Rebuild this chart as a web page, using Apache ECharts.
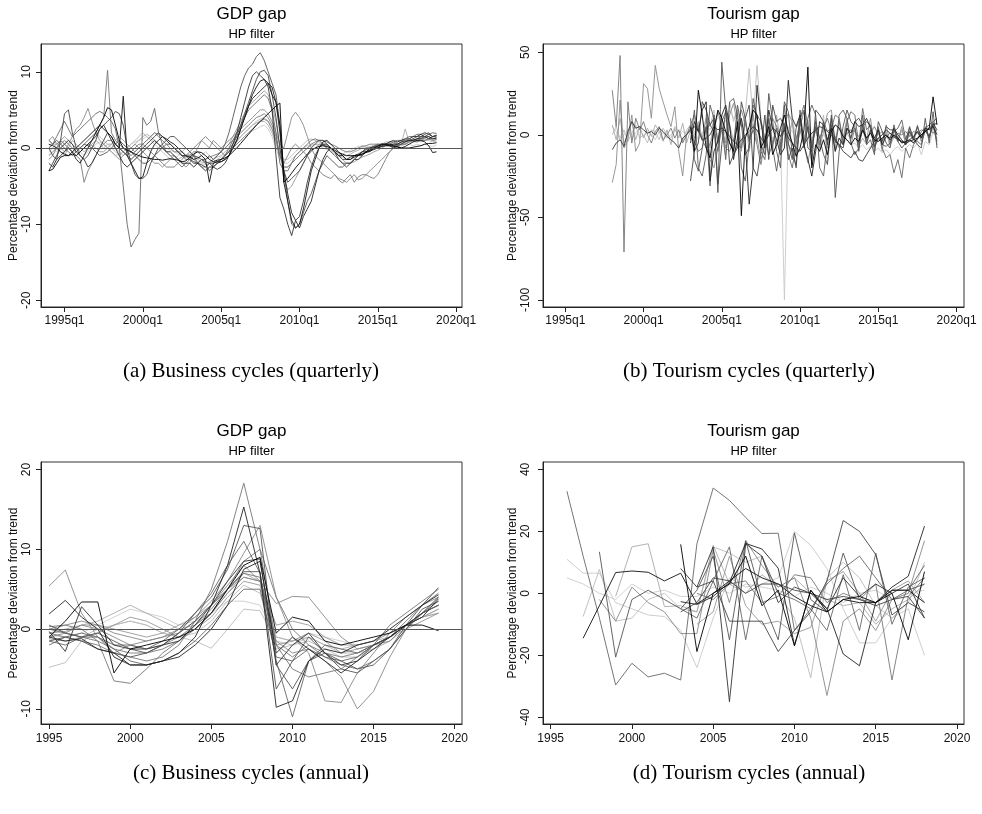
<!DOCTYPE html>
<html><head><meta charset="utf-8">
<script src="https://cdn.jsdelivr.net/npm/echarts@6/dist/echarts.min.js"></script>
<style>html,body{margin:0;padding:0;background:#fff}#c{width:982px;height:814px}</style>
</head><body><div id="c"></div>
<script>
// ---------------- DATA ----------------
// Panel (a): quarterly GDP gap, 1994q1 .. 2018q4
const gdpQStart = 1994;
const gdpQ1 = [-3.0,-2.8,-2.0,-1.2, -1.0,-1.0,-0.8,-1.0, -0.5,0.0,0.5,1.0, 2.0,3.0,4.0,5.3, 5.0,3.0,1.0,0.0, -0.3,-0.5,-0.8,-1.0, -1.2,-1.3,-1.4,-1.5, -1.5,-1.6,-1.5,-1.4, -1.5,-1.6,-1.8,-1.7, -1.2,-0.8,-0.5,-0.6, -1.0,-1.5,-1.8,-1.6, -1.5,-1.3,-1.0,-0.5, 0.0,0.6,1.2,1.8, 2.4,3.0,3.5,4.0, 4.5,5.0,5.5,5.9, -4.5,-4.0,-3.3,-2.6, -2.0,-1.4,-0.8,-0.3, 0.0,0.2,0.3,0.2, 0.0,-0.3,-0.6,-0.8, -1.0,-1.0,-1.0,-0.9, -0.8,-0.6,-0.4,-0.2, 0.0,0.2,0.3,0.3, 0.2,0.1,0.0,0.0, 0.0,0.1,0.2,0.3, 0.5,0.6,0.6,0.7];
const gdpQ2 = [0.5,0.3,0.0,-0.5, -0.8,-1.0,-0.5,0.0, 0.5,1.0,1.5,2.0, 2.5,3.0,2.5,2.0, 1.5,0.5,0.0,6.8, -1.0,-2.0,-3.0,-4.0, -3.8,-2.0,-0.5,0.5, 1.0,1.5,1.2,0.8, 0.5,0.0,-0.5,-1.0, -1.2,-1.5,-1.3,-1.0, -1.5,-4.5,-2.0,-1.8, -1.8,-1.5,-1.0,0.0, 1.0,2.5,4.0,5.5, 7.0,8.0,8.8,9.0, 8.5,7.0,6.0,3.0, -4.5,-7.0,-9.5,-10.5, -10.0,-8.0,-5.5,-3.0, -1.5,0.0,0.8,1.0, 0.5,0.0,-0.5,-1.0, -1.5,-1.5,-1.2,-1.0, -0.8,-0.5,-0.3,0.0, 0.2,0.4,0.5,0.5, 0.3,0.2,0.0,0.2, 0.5,0.8,1.0,1.0, 0.8,0.3,-0.6,-0.5];
const gdpQ3 = [1.0,0.5,1.5,2.5, 3.5,2.5,1.5,2.0, 2.5,3.0,3.5,4.0, 4.5,4.8,4.5,4.0, 3.5,2.5,0.0,-5.0, -10.0,-13.0,-12.0,-11.2, 4.0,3.0,3.5,5.2, 2.0,0.5,-0.5,-1.0, -1.5,-2.0,-2.5,-2.0, -1.5,-1.0,-2.0,-1.5, -2.0,-3.0,-2.5,-2.0, -1.5,-1.0,0.0,1.0, 2.0,3.0,4.0,5.0, 5.5,6.0,6.5,7.0, 6.5,5.0,2.0,-2.0, -3.0,-3.0,-2.0,-1.0, -0.5,0.0,0.5,1.0, 1.2,1.0,0.5,0.0, -0.5,-1.0,-1.5,-2.0, -2.0,-2.0,-1.5,-1.0, -0.5,0.0,0.0,0.2, 0.5,0.5,0.3,0.5, 0.8,1.0,1.0,1.2, 1.5,1.5,1.8,1.8, 2.0,1.8,2.0,1.9];
const gdpQ4 = [-1.0,-0.5,0.0,0.5, 1.0,0.5,0.0,-0.5, 0.0,0.5,1.0,1.5, 2.0,3.0,4.0,10.2, 2.0,1.0,0.5,0.0, -0.5,-1.0,-0.5,0.0, 0.5,1.0,1.5,2.0, 1.5,1.0,0.5,0.0, -0.5,-0.5,-1.0,-1.2, -1.0,-0.5,-0.5,-1.0, -1.5,-1.2,-1.0,-0.8, -0.5,0.0,0.5,1.0, 1.5,2.0,2.5,3.0, 3.5,4.0,4.2,4.5, 4.0,3.0,1.5,-1.0, -2.5,-2.5,-2.0,-1.5, -1.0,-0.5,0.0,0.5, 0.8,1.0,1.0,0.8, 0.5,0.3,0.0,-0.3, -0.5,-0.5,-0.3,0.0, 0.2,0.3,0.5,0.5, 0.5,0.3,0.5,0.8, 0.8,0.5,0.5,0.8, 1.0,1.2,1.0,1.2, 1.5,1.5,1.2,1.4];
const gdpQ5 = [-3.0,-2.0,-1.0,0.0, 0.5,1.0,0.5,-0.5, -1.0,-1.5,-2.5,-2.0, -1.0,0.0,1.0,2.0, 1.5,0.5,0.0,-0.5, -1.0,-1.5,-1.0,-0.5, 0.0,0.5,1.0,1.5, 2.0,1.5,1.0,0.5, 0.0,-0.5,-1.0,-1.0, -1.5,-2.0,-2.0,-2.2, -2.5,-2.0,-2.5,-2.8, -2.5,-2.0,-1.0,0.5, 2.0,4.0,6.0,8.0, 9.5,10.0,9.5,9.0, 8.0,5.0,-1.0,-6.5, -8.0,-10.0,-11.5,-9.5, -9.0,-7.0,-4.5,-2.5, -1.0,0.0,0.5,0.5, 0.0,-0.5,-1.5,-2.0, -2.5,-2.0,-1.5,-1.5, -1.0,-0.5,-0.2,0.0, 0.0,0.5,0.5,0.8, 1.0,0.8,1.0,1.2, 1.2,1.5,1.5,1.8, 1.5,1.2,1.5,1.6];
const gdpQ6 = [0.0,0.5,1.0,0.5, 0.0,-0.5,-1.0,-0.5, 0.0,0.5,0.3,0.0, -0.5,-1.0,-0.8,-0.5, 0.0,0.5,1.0,0.5, 0.0,-0.5,-1.0,-1.5, -2.0,-2.0,-1.5,-1.0, -0.5,0.0,0.5,0.5, 0.0,-0.5,-1.0,-1.5, -1.5,-1.8,-2.0,-1.5, -1.5,-1.0,-1.5,-1.0, -0.5,0.5,2.0,4.0, 6.0,8.0,9.5,10.5, 11.0,12.0,12.5,11.5, 10.0,8.5,7.0,3.0, -3.0,-7.0,-10.0,-10.5, -10.0,-8.5,-7.0,-6.0, -4.5,-3.0,-2.0,-1.0, -1.5,-2.0,-2.5,-2.5, -2.0,-2.0,-1.5,-1.0, -1.0,-0.5,-0.5,0.0, 0.0,0.3,0.5,0.5, 0.3,0.5,0.8,1.0, 1.0,1.2,1.5,1.5, 1.8,2.0,1.5,1.7];
const gdpQ7 = [1.0,1.5,0.5,0.0, -0.5,0.5,1.5,2.5, 3.0,4.0,5.2,3.5, 2.0,1.0,0.5,0.0, -0.5,-1.0,-1.5,-1.0, -0.5,0.0,0.5,0.0, -0.5,-1.0,-1.5,-2.0, -2.0,-2.5,-2.0,-1.5, -1.0,-1.5,-2.0,-2.5, -2.0,-1.0,0.0,1.0, 0.5,0.0,1.0,0.5, 0.0,0.5,1.0,1.5, 2.0,2.5,3.0,3.5, 4.0,4.5,5.0,5.0, 4.5,3.5,2.0,0.5, 0.0,2.0,4.0,4.7, 4.0,3.0,1.5,0.0, -1.0,-1.5,-2.0,-2.5, -3.0,-3.5,-4.0,-4.2, -4.5,-4.0,-3.5,-4.2, -4.0,-3.5,-3.0,-2.5, -2.0,-1.5,-1.0,-0.5, 0.0,0.5,0.5,0.5, 0.8,1.0,1.0,1.2, 1.0,1.2,1.3,1.2];
const gdpQ8 = [0.0,-1.0,-1.5,1.0, 4.5,5.0,2.0,0.0, -1.0,-1.5,-1.0,0.0, 1.0,2.5,3.0,3.5, 4.0,4.8,4.5,3.0, 0.0,-2.0,-3.5,-4.0, -4.0,-3.5,-2.0,-1.0, 0.0,0.5,1.0,1.5, 1.5,1.0,0.5,0.0, -0.5,-1.0,-1.2,-1.5, -1.8,-2.0,-2.0,-1.8, -1.5,-1.0,-0.5,0.5, 1.5,3.0,4.5,6.0, 7.5,9.0,10.0,10.2, 9.5,7.0,4.0,0.0, -3.0,-4.5,-4.0,-3.5, -3.0,-2.0,-1.0,0.0, 0.5,1.0,1.0,0.5, 0.0,-0.5,-1.0,-1.5, -1.5,-1.2,-1.0,-0.8, -0.5,-0.2,0.0,0.2, 0.3,0.5,0.5,0.3, 0.0,0.3,0.5,0.8, 1.0,1.0,1.2,1.5, 1.5,1.8,1.5,1.6];
const gdpQ9 = [1.0,0.5,0.0,-0.5, -1.0,0.0,1.0,0.5, 0.0,-0.5,0.0,0.5, 1.0,0.5,0.0,0.5, 0.5,0.0,-0.5,-1.0, -0.5,0.0,0.5,1.0, 1.5,1.8,1.5,1.0, 0.5,0.0,-0.5,-1.0, -1.0,-1.5,-1.2,-1.0, -0.8,-1.0,-1.5,-1.8, -2.0,-1.8,-1.5,-1.2, -1.0,-0.5,0.0,0.5, 1.0,1.5,2.0,2.5, 3.0,3.3,3.5,3.5, 3.0,2.0,0.5,-1.0, -2.5,-2.5,-2.0,-1.5, -1.0,-0.5,0.0,0.3, 0.5,0.5,0.3,0.0, -0.3,-0.5,-0.8,-1.0, -1.0,-0.8,-0.5,-0.3, 0.0,0.0,0.2,0.3, 0.3,0.5,0.5,0.5, 0.3,0.2,0.5,2.5, 0.8,0.8,0.8,1.0, 1.0,1.2,1.0,1.1];
const gdpQ10 = [0.5,0.0,-0.5,0.0, 0.5,1.0,0.5,0.0, -0.5,-1.0,-0.5,0.0, 0.5,0.8,0.5,0.0, -0.5,-1.0,-0.8,-0.5, 0.0,0.5,0.8,1.0, 1.2,1.5,1.2,0.8, 0.5,0.2,0.0,-0.3, -0.5,-0.8,-1.0,-1.0, -1.2,-1.5,-1.8,-2.0, -2.2,-2.0,-1.8,-1.5, -1.2,-0.8,-0.5,0.0, 0.5,1.0,1.5,2.0, 2.3,2.5,2.8,3.0, 2.5,1.5,0.0,-1.5, -2.0,-2.0,-1.5,-1.0, -0.5,0.0,0.3,0.5, 0.5,0.3,0.0,-0.2, -0.5,-0.5,-0.8,-0.8, -0.5,-0.3,0.0,0.2, 0.3,0.2,0.0,0.2, 0.3,0.5,0.3,0.2, 0.0,0.2,0.3,0.5, 0.5,0.3,0.5,0.3, 0.5,0.3,0.2,0.4];
const gdpQ11 = [-1.5,-1.0,0.0,1.0, 0.5,0.0,-0.5,-1.0, -1.5,-4.5,-3.0,-2.0, -1.0,0.0,0.5,1.0, 1.0,0.5,0.0,-0.5, -1.0,-0.5,0.0,0.5, 0.5,0.0,-0.5,-1.0, -1.5,-2.0,-2.5,-2.5, -2.5,-2.0,-1.5,-1.0, -0.5,0.0,0.5,1.0, 1.5,1.0,0.5,0.0, -0.5,-1.0,-0.5,0.0, 0.5,1.0,1.5,2.0, 2.5,3.0,3.5,3.8, 3.5,2.5,1.0,-1.0, -2.0,-1.0,0.0,0.5, 0.0,-0.5,-1.0,-2.0, -2.5,-3.0,-3.5,-3.8, -4.0,-3.5,-4.2,-4.6, -4.0,-3.5,-4.5,-3.8, -3.5,-3.5,-3.8,-4.0, -3.5,-2.5,-1.5,-0.5, 0.0,0.3,0.5,0.5, 0.8,1.0,0.8,1.0, 1.0,1.2,1.0,1.1];
const gdpQ12 = [-2.0,-2.5,-1.5,-1.0, -0.5,0.0,-0.5,-1.5, -2.0,-1.0,0.0,1.0, 1.5,2.5,3.0,2.0, 1.0,0.0,-1.0,-2.0, -2.5,-2.0,-1.5,-1.0, -0.5,0.0,0.5,1.0, 0.5,0.0,-0.5,-0.5, -1.0,-1.5,-2.0,-2.0, -2.0,-2.5,-2.0,-2.5, -3.0,-2.5,-2.5,-2.0, -1.8,-1.5,-1.0,0.0, 1.0,2.5,4.0,5.5, 6.5,7.0,7.5,8.0, 8.5,8.0,6.0,2.0, -3.0,-6.0,-8.5,-9.5, -10.5,-9.0,-8.0,-7.0, -5.0,-3.0,-1.5,-0.5, 0.0,-0.5,-1.0,-1.0, -1.5,-1.5,-1.0,-1.0, -0.5,-0.5,0.0,0.0, 0.3,0.5,0.5,0.3, 0.5,0.5,0.8,0.8, 1.0,1.0,1.2,1.3, 1.3,1.5,1.2,1.3];
const gdpQ13 = [0.0,0.5,0.5,1.0, 1.5,1.0,0.5,0.0, -0.5,0.0,0.5,0.3, 0.0,-0.5,-0.5,0.0, 0.5,1.0,1.5,1.0, 0.5,0.0,-0.5,0.0, 0.5,1.0,1.5,2.0, 1.8,1.5,1.0,0.5, 0.0,-0.5,-0.5,-1.0, -1.0,-1.5,-2.0,-2.5, -2.5,-2.0,-1.5,-1.0, -0.5,0.0,0.5,1.5, 2.5,3.5,4.5,5.5, 6.0,6.5,7.0,7.5, 7.0,5.5,3.5,0.0, -4.0,-5.5,-5.0,-4.0, -3.0,-2.0,-1.0,-0.5, 0.0,0.5,0.5,0.3, 0.0,-0.5,-1.0,-1.5, -2.0,-2.0,-1.8,-1.5, -1.2,-1.0,-0.8,-0.5, -0.3,0.0,0.3,0.5, 0.5,0.8,1.0,1.0, 1.2,1.5,1.5,1.8, 2.0,1.8,1.5,1.6];
const gdpQ14 = [-0.5,0.0,0.5,1.0, 0.5,0.0,-0.5,-0.5, 0.0,0.5,1.0,1.5, 2.0,1.5,1.0,0.5, 0.0,-0.5,-1.0,-0.5, 0.0,0.5,1.0,1.5, 2.0,1.5,1.0,0.5, 0.0,-0.5,-1.0,-1.5, -1.5,-1.0,-0.5,0.0, -0.5,-1.0,-1.5,-1.0, -0.5,-1.0,-1.5,-2.0, -1.5,-1.0,-0.5,0.0, 0.8,1.5,2.0,2.5, 3.0,3.5,3.8,4.0, 3.5,2.5,1.0,-0.5, -1.5,-1.5,-1.0,-0.5, 0.0,0.5,1.0,1.2, 1.0,0.8,0.5,0.0, -0.5,-0.8,-1.0,-1.2, -1.5,-1.2,-1.0,-0.8, -0.5,-0.3,0.0,0.3, 0.5,0.5,0.8,0.8, 0.5,0.5,0.3,0.5, 0.8,1.0,1.0,0.8, 1.0,1.0,0.8,0.9];

// Panel (b): quarterly tourism gap (first year of each series given separately)
const tourQ1 = [27,5,48,-71, 20,-5,10,3, 8,0,-5,2, 5,-3,0,4, -2,3,-5,0, 6,12,4,-3, -8,-6,2,14, 5,-8,-10,-3, 4,15,7,-2, 3,-6,-18,-4, 2,10,5,-1, 4,-6,-10,-2, 5,14,2,-5, 3,-2,4,10, 2,-1,-8,-2, 1,3,2,-1, 2,-2,1,5, 0,2,-1,1, -2,1,0,2, -1,2,1,3, 2,4,1,3];
const tourQ2 = [5,2,-3,0, 3,-2,1,4, -1,2,0,-3, 2,1,-2,0, 3,-1,2,1, 4,2,-3,1, 6,3,8,10, 12,8,15,10, 14,8,5,3, 6,2,4,0, 2,-2,1,-3, -100,5,2,-1, 3,0,-2,1, 2,-1,0,-3, -1,-4,-2,-5, -3,-6,-5,-8, -6,-9,-7,-10, -8,-11,-9,-12, -9,-7,-10,-8, -6,-8,-5,-12, -4,-6,2,-3];
const tourQ3 = [-29,-18,21,-8, -3,12,-10,-5, 31,28,10,42, 28,20,12,5, 17,-10,-25,0, 4,-2,6,-3, 10,-15,-20,-8, 3,-5,12,19, 6,-10,8,-4, 12,-2,-15,-6, 9,-5,4,-8, 6,13,8,-10, 3,-6,-17,-4, 5,-8,2,13, 15,-5,8,-2, 10,-6,4,-9, 6,-3,10,-7, 4,-10,6,-5, 3,-4,5,-6, 2,-3,6,-4, 5,-2,8,-6];
const tourQ4 = [5,-10,27,12, -8,-14,3,15, 10,2,-5,-10, 8,-49,-2,5, 15,12,-8,-3, 5,-12,-6,4, 12,2,-5,-13, -8,3,41,-20, -6,-10,-3,-12, 2,6,4,-1, -3,-6,-2,-4, 3,-2,1,-3, -4,-2,0,-3, 0,-2,-5,-4, -3,-5,-2,0, 2,4,23,6];
const tourQ5 = [-5,8,2,15, 20,-28,-10,-4, 12,18,6,-15, -2,10,-5,-42, -20,30,8,-8, 15,4,-3,-12, -8,33,10,5, 12,-6,-15,-25, -10,8,6,-3, 4,-10,-2,-6, 4,1,8,5, 6,10,4,-2, 3,-6,-1,-2, 4,0,-3,-6, -3,-1,2,-2, 4,3,5,0];
const tourQ6 = [10,-15,-22,-8, 5,-31,12,-35, 44,15,-5,-10, 18,6,-12,-8, 22,10,-6,-12, 25,8,-10,-20, 18,-5,-15,4, 10,15,-8,-10, 8,-2,-12,-18, 12,-38,-10,5, 15,8,5,-10, 12,-6,-3,-12, 8,2,-5,-8, 6,-4,-8,-5, 4,-2,-6,-8, 10,-5,14,-8];
const tourQ7 = [0,5,-2,3, -4,1,6,-2, 0,-5,3,2, -3,4,0,-2, 5,2,-4,3, 6,0,8,-4, 12,5,15,-6, 10,-3,20,8, 15,5,12,40, 8,42,10,-5, 12,-8,6,2, 5,-6,10,-3, 4,-2,8,-5, 10,-10,12,-18, 5,-3,8,-4, 6,-2,4,-6, 3,-5,2,-4, 1,-3,2,-6, 0,-4,3,-2, 2,-5,4,-1, 3,-2,6,1];
const tourQ8 = [-9,-5,-3,-7, 2,8,4,5, 3,1,2,0, 4,2,-1,-3, -5,-8,-2,0, 3,5,2,-3, -2,0,5,3, 4,2,-1,-4, -6,-3,0,2, 5,3,-2,-5, 0,4,2,-1, 3,-2,-5,-8, -10,-6,-2,1, 3,5,4,2, 0,-3,-6,-10, -12,-14,-10,-15, -16,-12,-8,-4, -2,0,3,1, -1,-3,-4,-5, -4,-3,-2,0, 2,4,6,7];
const tourQ9 = [2,-4,-10,-8, 4,6,2,-10, 8,14,5,-12, -6,-8,10,-4, 3,12,8,-2, -12,-6,4,-10, 7,-12,-20,-6, 10,18,6,-8, 5,-6,8,2, 4,12,10,-5, 8,14,12,-6, 16,3,6,-10, 5,-8,-14,-12, -23,-15,-26,-8, -14,-6,-3,2, 4,6,8,10];
const tourQ10 = [-3,15,-20,-25, -12,18,10,-5, 5,-15,20,22, 12,-20,-28,-5, 18,12,-10,-15, 10,-8,-22,-6, 20,14,-12,-18, 15,-5,10,18, 12,-20,-25,-4, 6,-10,12,15, 10,-5,-12,-8, 5,8,6,-4, 3,-6,-7,-5, 2,4,9,-3, 5,-3,-4,-6, 3,-2,6,-4];
const tourQ11 = [6,-3,10,-5, 0,8,-3,5, -2,4,-1,6, 2,-4,3,-6, 4,-2,7,-5, 3,-6,8,-2, 5,-8,12,-3, 9,-12,6,-4, 14,-7,11,-10, 7,-4,9,-6, 3,-9,12,-5, 6,-2,8,-12, 4,-7,9,-3, 2,-5,6,-8, 3,-4,5,-6, 1,-3,4,-7, -2,-6,3,-8, -3,-5,2,-7, -1,-4,3,-5, 0,-3,2,-4, 2,-1,4,-2];
const tourQ12 = [-28,-10,-5,20, 15,6,10,-30, -6,15,-18,-12, -8,20,10,18, -20,-25,-10,12, -15,18,8,10, 5,-15,-8,-20, 10,-8,5,-18, 15,12,8,-6, 10,-4,-6,-8, 4,-2,8,10, 6,-5,3,-7, -2,-4,5,3, 3,-2,-4,-5, 2,-3,5,-2, 4,-1,7,3];
const tourQStarts = [1998,1998,1998,2003,2003,2003,1998,1998,2003,2003,1998,2003];

// Panel (c): annual GDP gap, 1995 .. 2019
const gdpAStart = 1995;
const gdpA1 = [-0.5,-1.0,-1.5,-2.0,-3.0,-3.5,-4.0,-3.5,-2.0,1.0,5.0,11.0,18.3,10.0,-2.0,-5.0,-6.0,-5.5,-5.0,-3.5,-2.0,0.5,2.0,3.5,5.0];
const gdpA2 = [-1.0,-1.5,-1.2,-2.5,-3.0,-4.5,-4.5,-4.0,-3.0,-1.0,3.0,8.0,15.3,7.0,-9.8,-9.0,-4.0,-2.5,-3.0,-2.0,-1.5,0.0,1.5,3.0,4.3];
const gdpA3 = [0.5,-0.5,-1.0,-0.5,-1.5,-2.5,-3.0,-2.0,-0.5,2.0,4.0,7.5,13.0,12.6,-4.5,-7.5,-4.0,-3.0,-4.0,-5.0,-4.5,-2.5,0.5,3.0,5.2];
const gdpA4 = [0.0,0.5,1.0,0.5,-0.5,-1.0,-1.5,-1.0,0.0,1.5,3.5,6.0,9.5,13.0,4.0,-1.0,-3.0,-9.0,-9.2,-5.5,-3.0,-0.5,1.5,3.0,4.0];
const gdpA5 = [-1.5,-2.0,-1.0,-1.0,-2.0,-2.0,-2.5,-1.5,0.0,2.0,4.5,8.0,11.0,7.0,-4.0,-11.0,-4.0,-2.0,-2.5,-3.0,-2.0,-1.0,0.5,2.0,3.0];
const gdpA6 = [5.4,7.4,2.0,-1.0,-3.0,-2.0,-1.5,-1.0,-0.5,1.0,3.0,5.5,8.0,6.0,3.2,4.1,4.0,1.5,-1.0,-2.5,-2.0,-1.5,0.5,2.0,3.0];
const gdpA7 = [-4.8,-4.2,-1.5,-0.5,0.5,1.0,0.5,-0.5,-1.0,-1.5,-2.4,0.0,2.5,2.3,-1.5,-2.0,-1.0,-2.0,-3.0,-3.0,-2.5,-1.5,0.0,1.0,2.0];
const gdpA8 = [1.9,3.6,1.5,0.0,-3.5,-4.5,-4.5,-4.0,-3.5,-2.0,0.0,3.0,7.5,8.5,-3.0,-1.0,-2.5,-4.0,-5.5,-4.0,-2.5,-1.0,0.5,1.5,3.8];
const gdpA9 = [-1.0,1.0,3.4,3.4,-5.5,-2.5,-2.0,-1.5,-1.0,0.0,2.0,5.0,8.0,9.0,-0.5,1.5,1.0,-1.5,-2.0,-1.5,-1.0,-0.5,0.5,0.5,-0.2];
const gdpA10 = [-0.3,-2.8,2.8,0.5,-2.0,-2.5,-2.5,-2.0,-1.5,0.5,3.0,6.0,8.5,8.8,-4.5,-2.0,-0.5,-3.0,-4.5,-4.0,-2.0,-1.0,0.5,2.0,4.0];
const gdpA11 = [-1.2,-1.5,-1.0,-0.5,0.5,1.5,1.0,0.0,-1.0,0.0,1.5,4.0,6.0,5.5,-2.0,-1.5,-0.5,-1.5,-3.0,-2.5,-2.0,-1.0,0.5,1.5,2.5];
const gdpA12 = [-0.5,0.0,0.5,1.0,2.0,3.0,2.0,1.0,0.0,0.5,2.0,4.5,7.0,6.0,-1.0,-1.5,-1.0,-2.0,-2.5,-2.0,-1.5,-1.0,0.0,1.0,2.0];
const gdpA13 = [-0.8,-1.0,-0.5,0.5,1.5,2.5,2.0,1.5,0.5,1.0,2.0,3.5,3.5,3.0,-1.0,-1.5,-0.5,-1.0,-1.5,-2.0,-1.5,-0.5,0.5,1.5,2.0];
const gdpA14 = [0.3,0.5,0.0,-1.5,-6.5,-6.8,-5.0,-3.0,-1.5,0.5,2.5,5.0,7.0,6.5,-2.0,-3.5,-2.0,-3.5,-4.5,-5.0,-4.0,-2.5,0.0,2.0,3.5];
const gdpA15 = [-1.5,-1.0,-1.5,-2.5,-3.0,-3.5,-3.0,-2.0,-0.5,1.0,3.0,5.0,7.2,7.2,-7.5,-4.0,-1.0,-3.0,-5.0,-5.5,-4.0,-2.5,0.0,2.5,3.5];
const gdpA16 = [0.0,-0.5,-1.0,0.0,0.5,1.0,0.5,-0.5,-1.0,-0.5,1.0,3.5,5.5,4.5,-2.5,-2.0,-1.5,-2.5,-3.5,-3.5,-2.5,-1.5,0.5,1.5,2.5];
const gdpA17 = [-1.0,-0.5,0.5,0.0,-1.0,-2.0,-2.5,-2.0,-1.0,0.5,2.0,4.5,6.5,6.0,-1.5,-3.0,-2.5,-4.0,-6.0,-10.0,-7.8,-3.5,0.0,2.0,3.0];
const gdpA18 = [0.0,-0.5,-1.0,-1.5,-2.5,-3.0,-3.0,-2.5,-1.5,0.0,2.0,5.0,8.5,10.0,4.0,0.0,-2.0,-3.0,-3.5,-3.0,-2.0,-1.0,1.0,3.0,4.5];
const gdpA19 = [-0.5,-0.3,0.5,0.5,0.0,-0.5,-1.0,-0.5,0.5,1.5,3.0,5.0,6.5,6.0,0.5,1.0,0.5,-1.0,-2.0,-2.0,-1.5,-0.5,0.5,1.5,2.0];
const gdpA20 = [-2.0,-1.0,-0.5,-1.0,-2.5,-4.0,-4.5,-4.0,-3.0,-1.5,0.5,3.0,5.0,5.0,-3.5,-4.0,-2.5,-3.5,-4.0,-3.5,-2.0,-1.0,0.5,2.0,3.0];

// Panel (d): annual tourism gap (first year of each series given separately)
const tourA1 = [33,12,-8,-29.6,-22.6,-27,-25.8,-28,16,34,30,24.5,19.3,19.4,-12,-5,3,8,12,5,-2,1,9];
const tourA2 = [11,6.5,6.5,-3,-5,-7,-7.5,-12,-24,-8,5,2,3,5,20,15.5,8,-5,-16,-16,-8,-5,-20];
const tourA3 = [-14.5,-4,6.7,7.2,6.8,4,6.5,-3.4,0,4,8,5,3,-1,-4,-6,-2,-3,-3,1,1,-3];
const tourA4 = [15.8,-18.8,0,3,12,-4,1,-17,1,-6,-2,-1,-3,0,-15,7];
const tourA5 = [-2.7,-3.6,-1,3.5,16.1,14.3,8.1,-16.7,1,-5,-19.6,-23.4,-3,2,5.5,21.7];
const tourA6 = [8,2,15,-35,16,12,-3,2,0,-5,5,-1,3,0,3,-8];
const tourA7 = [13.4,-20.6,-2,1,-2,-5,1,12,-15,17,-2,-15,19.5,-2,-6,13,-2,-3,1,1,3];
const tourA8 = [2,4,-9,-9,-9,-18.8,-12,-6,4,23.5,20,12.5,-7,-3,-6];
const tourA9 = [-2,-9,2,-3,-6,-13,-13,14,-3,17,9,2,5,-8,-33,-9,-5,-12,-2,0,17];
const tourA10 = [0,-2,3,4,-3,-1,6,5,-3,0,-2,3,-28,-1,5];
const tourA11 = [-7.5,7.7,-9,-8,-2,0,-5,-6,15,13,10,12,0,-8,-27.3,5,10,5,-4,-8,-3,10];
const tourA12 = [-1,15,16,-4.3,-4,-6,15.5,3,0,6,2,5,0,-2,-4,-3,-10,-5,-2,3];
const tourA13 = [5,3,0,-2,3,0,1,-1,-1,2,0,3,2,1,-1,2,0,-3,0,1,-2,0,1];
const tourA14 = [-5,-8,4,15,-15,12,0,-2,-5,-12,6,-12,13,-10,2,5];
const tourA15 = [-10,-6,12,-4,-10,-9,-13,-11,4,7,0,-9,1,4,-3];
const tourA16 = [-6,-3,5,4,0,3,3,1,0,-2,-1,-2,-4,-2,-1,-8];
const tourAStarts = [1996,1996,1997,2003,2003,2003,1998,2004,1998,2004,1997,1999,1996,2003,2004,2003];

// Axis tick values
const qTicks = [1995,2000,2005,2010,2015,2020];
const aTicks = [1995,2000,2005,2010,2015,2020];
const gdpQYTicks = [-20,-10,0,10];
const tourQYTicks = [-100,-50,0,50];
const gdpAYTicks = [-10,0,10,20];
const tourAYTicks = [-40,-20,0,20,40];

// ---------------- STYLE ----------------
const gdpQList = [gdpQ1,gdpQ2,gdpQ3,gdpQ4,gdpQ5,gdpQ6,gdpQ7,gdpQ8,gdpQ9,gdpQ10,gdpQ11,gdpQ12,gdpQ13,gdpQ14];
const gdpQColors = ['#000','#111','#666','#777','#333','#555','#888','#444','#aaa','#c8c8c8','#7a7a7a','#222','#999','#bbb'];
const tourQList = [tourQ1,tourQ2,tourQ3,tourQ4,tourQ5,tourQ6,tourQ7,tourQ8,tourQ9,tourQ10,tourQ11,tourQ12];
const tourQColors = ['#777','#c8c8c8','#8c8c8c','#000','#222','#555','#bbb','#333','#666','#5a5a5a','#aaa','#444'];
const gdpAList = [gdpA1,gdpA2,gdpA3,gdpA4,gdpA5,gdpA6,gdpA7,gdpA8,gdpA9,gdpA10,gdpA11,gdpA12,gdpA13,gdpA14,gdpA15,gdpA16,gdpA17,gdpA18,gdpA19,gdpA20];
const gdpAColors = ['#777','#222','#555','#888','#666','#888','#bbb','#222','#000','#333','#999','#aaa','#ccc','#777','#555','#bbb','#888','#777','#999','#666'];
const tourAList = [tourA1,tourA2,tourA3,tourA4,tourA5,tourA6,tourA7,tourA8,tourA9,tourA10,tourA11,tourA12,tourA13,tourA14,tourA15,tourA16];
const tourAColors = ['#666','#c8c8c8','#111','#000','#222','#333','#555','#444','#888','#777','#bbb','#aaa','#ccc','#666','#999','#444'];

function lum(c){ const h=c.replace('#',''); const f=h.length===3?h.split('').map(x=>x+x).join(''):h; return parseInt(f.slice(0,2),16); }

const series = [];
function addSeries(list, colors, starts, gi, quarterly){
  const idx = list.map((_,i)=>i).sort((a,b)=>lum(colors[b])-lum(colors[a]));
  idx.forEach(i=>{
    const s0 = quarterly ? (starts[i]-1960)*4 : starts[i];
    series.push({
      type:'line', xAxisIndex:gi, yAxisIndex:gi, symbol:'none', showSymbol:false,
      silent:true, animation:false, z:2,
      lineStyle:{color:colors[i], width:0.9},
      data: list[i].map((v,j)=>[s0+j, v])
    });
  });
}
addSeries(gdpQList, gdpQColors, gdpQList.map(()=>gdpQStart), 0, true);
addSeries(tourQList, tourQColors, tourQStarts, 1, true);
addSeries(gdpAList, gdpAColors, gdpAList.map(()=>gdpAStart), 2, false);
addSeries(tourAList, tourAColors, tourAStarts, 3, false);

// zero reference lines for GDP panels
[0,2].forEach(gi=>{
  series.push({type:'line', xAxisIndex:gi, yAxisIndex:gi, data:[], silent:true, animation:false,
    markLine:{symbol:'none', silent:true, animation:false, label:{show:false},
      lineStyle:{color:'#555', width:1.2, type:'solid'}, data:[{yAxis:0}]}});
});

const font = 'Liberation Sans';
const qFmt = v => (1960+Math.floor(v/4)) + 'q' + (v%4+1);
const qTickVals = qTicks.map(y=>(y-1960)*4);

function xAxis(gi, min, max, vals, fmt, margin){
  return {type:'value', gridIndex:gi, min, max,
    axisLine:{show:true, onZero:false, lineStyle:{color:'#222', width:1}},
    axisTick:{show:true, length:5, customValues:vals, lineStyle:{color:'#222'}},
    axisLabel:{customValues:vals, formatter:fmt, fontFamily:font, fontSize:12, color:'#111', margin},
    splitLine:{show:false}};
}
function yAxis(gi, min, max, vals, margin){
  return {type:'value', gridIndex:gi, min, max,
    name:'Percentage deviation from trend', nameLocation:'middle', nameGap:21, nameRotate:90,
    nameTextStyle:{fontFamily:font, fontSize:12, color:'#111'},
    axisLine:{show:true, onZero:false, lineStyle:{color:'#222', width:1}},
    axisTick:{show:true, length:5, customValues:vals, lineStyle:{color:'#222'}},
    axisLabel:{customValues:vals, rotate:90, fontFamily:font, fontSize:12, color:'#111', margin},
    splitLine:{show:false}};
}

function txt(x, y, text, size, fam){
  return {type:'text', x, y, silent:true, style:{text, font: size+'px "'+fam+'"', fill:'#000', align:'center', verticalAlign:'middle'}};
}

const option = {
  animation:false,
  backgroundColor:'#fff',
  textStyle:{fontFamily:font},
  grid:[
    {left:41, top:44, width:421, height:263, show:true, borderColor:'#333', borderWidth:1, backgroundColor:'#fff'},
    {left:543, top:44, width:421, height:263, show:true, borderColor:'#333', borderWidth:1, backgroundColor:'#fff'},
    {left:41, top:462, width:421, height:262, show:true, borderColor:'#333', borderWidth:1, backgroundColor:'#fff'},
    {left:543, top:462, width:421, height:262, show:true, borderColor:'#333', borderWidth:1, backgroundColor:'#fff'}
  ],
  xAxis:[
    xAxis(0, 134, 241.5, qTickVals, qFmt, 8),
    xAxis(1, 134.3, 241.9, qTickVals, qFmt, 8),
    xAxis(2, 1994.5, 2020.45, aTicks, v=>String(v), 9),
    xAxis(3, 1994.53, 2020.43, aTicks, v=>String(v), 9)
  ],
  yAxis:[
    yAxis(0, -20.87, 13.65, gdpQYTicks, 8),
    yAxis(1, -104.3, 55.0, tourQYTicks, 11),
    yAxis(2, -11.9, 20.95, gdpAYTicks, 8),
    yAxis(3, -42.2, 42.4, tourAYTicks, 11)
  ],
  graphic:[
    txt(251.5, 14, 'GDP gap', 17, font), txt(251.5, 34, 'HP filter', 13, font),
    txt(753.5, 14, 'Tourism gap', 17, font), txt(753.5, 34, 'HP filter', 13, font),
    txt(251.5, 431.7, 'GDP gap', 17, font), txt(251.5, 451.7, 'HP filter', 13, font),
    txt(753.5, 431.7, 'Tourism gap', 17, font), txt(753.5, 451.7, 'HP filter', 13, font),
    txt(251, 371, '(a) Business cycles (quarterly)', 21, 'Liberation Serif'),
    txt(749, 371, '(b) Tourism cycles (quarterly)', 21, 'Liberation Serif'),
    txt(251, 773, '(c) Business cycles (annual)', 21, 'Liberation Serif'),
    txt(749, 773, '(d) Tourism cycles (annual)', 21, 'Liberation Serif')
  ],
  series
};
const chart = echarts.init(document.getElementById('c'));
chart.setOption(option);
</script></body></html>
